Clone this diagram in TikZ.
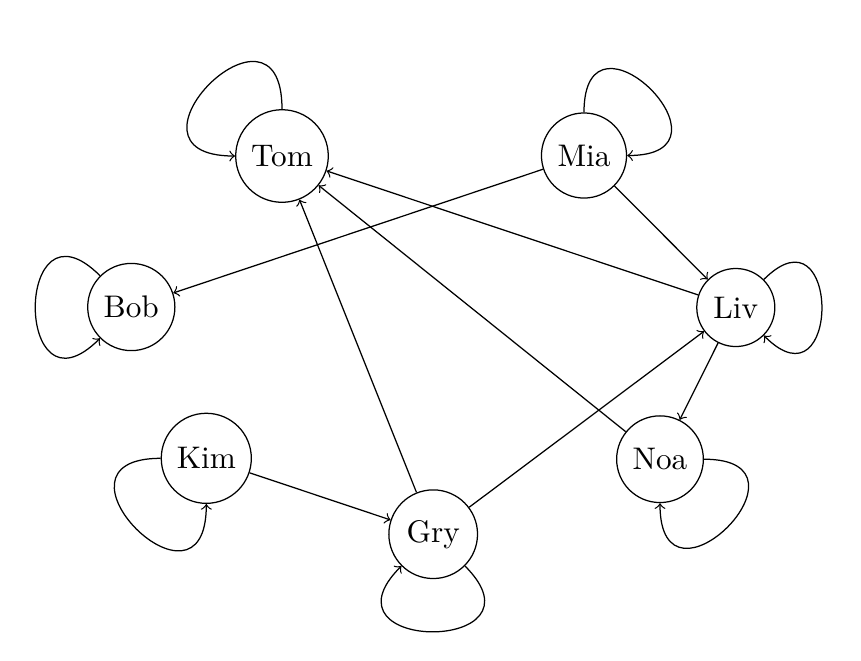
\documentclass[tikz,border=0pt]{standalone}
\begin{document}
\begin{tikzpicture}[x=0.32pt,y=-0.32pt,
  vert/.style={draw,circle},
  lp/.style={->,looseness=5}]
\useasboundingbox (0,0) rectangle (861,660);
\node[vert] (Tom) at (282,156) {Tom};
\node[vert] (Mia) at (584,155.5) {Mia};
\node[vert] (Bob) at (131.3,307) {Bob};
\node[vert] (Liv) at (735.8,307.5) {Liv};
\node[vert] (Kim) at (206.3,458.3) {Kim};
\node[vert] (Noa) at (660,459.2) {Noa};
\node[vert] (Gry) at (433.2,534.2) {Gry};
\draw[->] (Mia) -- (Bob);
\draw[->] (Liv) -- (Tom);
\draw[->] (Mia) -- (Liv);
\draw[->] (Noa) -- (Tom);
\draw[->] (Gry) -- (Tom);
\draw[->] (Gry) -- (Liv);
\draw[->] (Liv) -- (Noa);
\draw[->] (Kim) -- (Gry);
\draw[lp] (Tom) to[out=90,in=180] (Tom);
\draw[lp] (Mia) to[out=90,in=0] (Mia);
\draw[lp] (Bob) to[out=135,in=225] (Bob);
\draw[lp] (Liv) to[out=45,in=-45] (Liv);
\draw[lp] (Kim) to[out=180,in=270] (Kim);
\draw[lp] (Noa) to[out=0,in=270] (Noa);
\draw[lp] (Gry) to[out=-45,in=225] (Gry);
\end{tikzpicture}
\end{document}
